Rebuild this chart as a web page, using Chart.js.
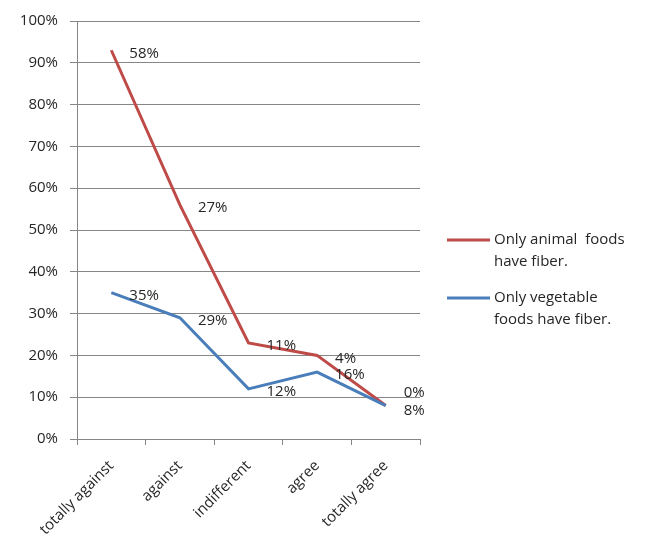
<!DOCTYPE html>
<html>
<head>
<meta charset="utf-8">
<script src="https://cdn.jsdelivr.net/npm/chart.js@4/dist/chart.umd.min.js"></script>
<style>
  html, body { margin: 0; padding: 0; background: #fff; }
  #wrap { width: 649px; height: 546px; }
</style>
</head>
<body>
<div id="wrap"><canvas id="fiberChart" width="649" height="546"></canvas></div>
<script>
// survey answers
var answers = ['totally against', 'against', 'indifferent', 'agree', 'totally agree'];
// share of answers per statement (stacked: animal sits on top of vegetable)
var vegetableShare = [35, 29, 12, 16, 8];
var animalShare = [58, 27, 11, 4, 0];
var yTicks = [0, 10, 20, 30, 40, 50, 60, 70, 80, 90, 100];

var red = '#be4b48';
var blue = '#4a7ebb';
var textColor = '#262626';
var font = { family: 'Open Sans', size: 15 };

// value labels beside each point
var pointLabels = {
    id: 'pointLabels',
    afterDatasetsDraw: function (chart) {
        var c = chart.ctx;
        var vMeta = chart.getDatasetMeta(0);
        var aMeta = chart.getDatasetMeta(1);
        c.save();
        c.font = font.size + 'px ' + font.family;
        c.fillStyle = textColor;
        c.textAlign = 'left';
        c.textBaseline = 'middle';
        for (var i = 0; i < answers.length; i++) {
            var v = vMeta.data[i], a = aMeta.data[i];
            var vy = v.y + 3, ay = a.y + 3;
            if (Math.abs(v.y - a.y) < 14) {
                ay = a.y - 13;
                vy = v.y + 5;
            }
            c.fillText(animalShare[i] + '%', a.x + 18, ay);
            c.fillText(vegetableShare[i] + '%', v.x + 18, vy);
        }
        c.restore();
    }
};

// legend on the right, two lines per entry
var sideLegend = {
    id: 'sideLegend',
    afterDraw: function (chart) {
        var c = chart.ctx;
        var entries = [chart.data.datasets[1], chart.data.datasets[0]];
        c.save();
        c.font = font.size + 'px ' + font.family;
        c.fillStyle = textColor;
        c.textBaseline = 'middle';
        entries.forEach(function (ds, k) {
            var y = 240 + k * 58;
            c.strokeStyle = ds.borderColor;
            c.lineWidth = 3;
            c.beginPath();
            c.moveTo(447, y);
            c.lineTo(490, y);
            c.stroke();
            ds.legendLines.forEach(function (t, j) {
                c.fillText(t, 494, y + j * 22);
            });
        });
        c.restore();
    }
};

var ctx = document.getElementById('fiberChart').getContext('2d');
var chart = new Chart(ctx, {
    type: 'line',
    data: {
        labels: answers,
        datasets: [{
            label: 'Only vegetable foods have fiber.',
            legendLines: ['Only vegetable', 'foods have fiber.'],
            data: vegetableShare,
            borderColor: blue,
            backgroundColor: blue,
            borderWidth: 3,
            pointRadius: 0,
            tension: 0,
            fill: false
        }, {
            label: 'Only animal  foods have fiber.',
            legendLines: ['Only animal  foods', 'have fiber.'],
            data: animalShare,
            borderColor: red,
            backgroundColor: red,
            borderWidth: 3,
            pointRadius: 0,
            tension: 0,
            fill: false
        }]
    },
    options: {
        responsive: false,
        animation: false,
        layout: { padding: { top: 21, right: 229, left: 0, bottom: 0 } },
        plugins: {
            legend: { display: false },
            tooltip: { enabled: false }
        },
        scales: {
            x: {
                offset: true,
                grid: { display: true, offset: true, drawOnChartArea: false, color: '#868686', tickLength: 6 },
                border: { color: '#868686', width: 1 },
                ticks: { minRotation: 45, maxRotation: 45, color: textColor, font: font, padding: 12 },
                afterFit: function (scale) { scale.height = 107; }
            },
            y: {
                stacked: true,
                min: 0,
                max: 100,
                afterBuildTicks: function (scale) {
                    scale.ticks = yTicks.map(function (v) { return { value: v }; });
                },
                grid: { color: '#868686', tickLength: 7 },
                border: { color: '#868686', width: 1 },
                ticks: {
                    color: textColor,
                    font: font,
                    padding: 12,
                    callback: function (v) { return v + '%'; }
                },
                afterFit: function (scale) { scale.width = 77; }
            }
        }
    },
    plugins: [pointLabels, sideLegend]
});
</script>
</body>
</html>
